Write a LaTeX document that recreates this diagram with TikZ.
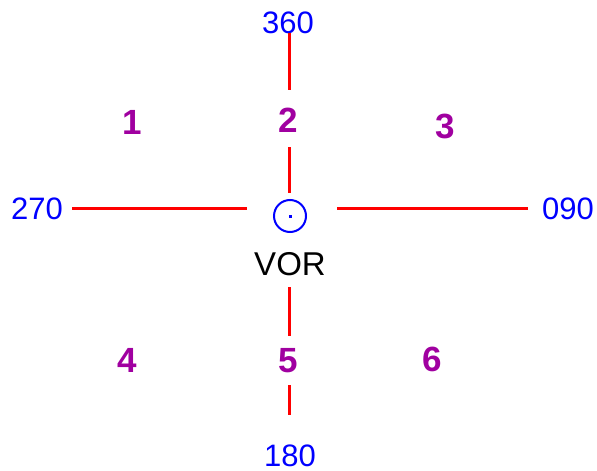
\documentclass[tikz,border=0pt]{standalone}
\usepackage{fontspec}
\setmainfont{Liberation Sans}
\definecolor{hdg}{RGB}{0,0,255}
\definecolor{sect}{RGB}{160,0,160}
\definecolor{radial}{RGB}{255,0,0}
\begin{document}
\begin{tikzpicture}[x=1pt,y=-1pt,
  hdglabel/.style={text=hdg,font=\fontsize{31}{33}\selectfont,inner sep=0pt},
  sectlabel/.style={text=sect,font=\bfseries\fontsize{35}{37}\selectfont,inner sep=0pt},
  radialline/.style={draw=radial,line width=3pt},
  vorlabel/.style={text=black,font=\fontsize{33}{35}\selectfont,inner sep=0pt}]
\useasboundingbox[fill=white] (0,0) rectangle (597,471);
% heading labels
\node[hdglabel] (n360) at (288,23) {360};
\node[hdglabel] (n270) at (37,209) {270};
\node[hdglabel] (n090) at (568,209) {090};
\node[hdglabel] (n180) at (290,456) {180};
% sector numbers
\node[sectlabel] (s1) at (132,122) {1};
\node[sectlabel] (s2) at (288,120) {2};
\node[sectlabel] (s3) at (445,126) {3};
\node[sectlabel] (s4) at (127,360) {4};
\node[sectlabel] (s5) at (288,361) {5};
\node[sectlabel] (s6) at (432,359) {6};
% VOR
\node[draw=hdg,line width=2pt,circle,minimum size=32pt,inner sep=0pt] (vor) at (290,216) {};
\fill[hdg] (288.5,214.5) rectangle (292,218);
\node[vorlabel] (vort) at (290,264) {VOR};
% radial lines
\coordinate (t1) at (289,33);  \coordinate (t2) at (289,90);
\coordinate (t3) at (289,147); \coordinate (t4) at (289,193);
\coordinate (b1) at (289,287); \coordinate (b2) at (289,336);
\coordinate (b3) at (289,385); \coordinate (b4) at (289,415);
\coordinate (l1) at (72,208);  \coordinate (l2) at (247,208);
\coordinate (r1) at (337,208); \coordinate (r2) at (528,208);
\draw[radialline] (t1) -- (t2);
\draw[radialline] (t3) -- (t4);
\draw[radialline] (b1) -- (b2);
\draw[radialline] (b3) -- (b4);
\draw[radialline] (l1) -- (l2);
\draw[radialline] (r1) -- (r2);
\end{tikzpicture}
\end{document}
